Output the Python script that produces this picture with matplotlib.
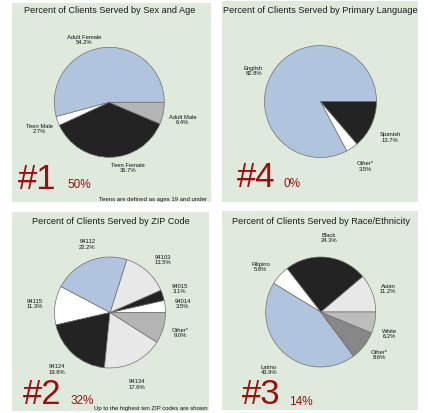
import matplotlib
matplotlib.use('Agg')
import matplotlib.pyplot as plt
from matplotlib.patches import Rectangle

plt.rcParams['font.family'] = ['Liberation Sans', 'DejaVu Sans']

W, H = 428, 414

# ---- data ----
sex_age_labels = ['Adult Female', 'Teen Male', 'Teen Female', 'Adult Male']
sex_age_values = [54.2, 2.7, 36.7, 6.4]

language_labels = ['English', 'Other*', 'Spanish']
language_values = [82.8, 3.5, 13.7]

zip_labels = ['94014', '94015', '94103', '94112', '94115', '94124', '94134', 'Other*']
zip_values = [3.5, 3.1, 13.5, 22.2, 11.3, 19.8, 17.6, 9.0]

race_labels = ['Asian', 'Black', 'Filipino', 'Latino', 'Other*', 'White']
race_values = [11.2, 24.3, 5.8, 43.9, 8.6, 6.2]

titles = ['Percent of Clients Served by Sex and Age',
          'Percent of Clients Served by Primary Language',
          'Percent of Clients Served by ZIP Code',
          'Percent of Clients Served by Race/Ethnicity']
ranks = ['#1', '#4', '#2', '#3']
rank_pcts = ['50%', '0%', '32%', '14%']
footnotes = ['Teens are defined as ages 19 and under', None,
             'Up to the highest ten ZIP codes are shown', None]

# ---- styles / layout (pixel coordinates, y measured from top) ----
BLUE, BLACK, WHITE = '#b0c4de', '#232323', '#ffffff'
LGRAY, MGRAY, DGRAY = '#e8e8e8', '#b4b4b4', '#878787'
BG = '#dfeadd'
RED = '#a00c0c'

colors = [
    [BLUE, WHITE, BLACK, MGRAY],
    [BLUE, WHITE, BLACK],
    [WHITE, BLACK, LGRAY, BLUE, WHITE, BLACK, LGRAY, MGRAY],
    [LGRAY, BLACK, WHITE, BLUE, DGRAY, '#bdbdbd'],
]
panels = [(12, 4, 211, 203), (222, 2, 418, 203), (12, 213, 209, 412), (222, 212, 418, 411)]
pies = [(109.3, 103.3, 55), (320.5, 102.5, 56), (110, 313.5, 55.5), (320.7, 313, 55)]
label_pos = [
    [(84.3, 40, 'center'), (53, 129, 'right'), (111, 168, 'left'), (169, 120, 'left')],
    [(244, 71, 'left'), (357, 166.5, 'left'), (379.7, 137.5, 'left')],
    [(182.7, 304.3, 'center'), (179.7, 289, 'center'), (162.7, 259.7, 'center'),
     (87.5, 244.5, 'center'), (35, 304, 'center'), (57.3, 369.5, 'center'),
     (137.3, 384.5, 'center'), (171.7, 332.7, 'left')],
    [(379.7, 288.7, 'left'), (329, 238, 'center'), (260.7, 267, 'center'),
     (269, 370, 'center'), (370.7, 355.3, 'left'), (381.7, 333.7, 'left')],
]
title_pos = [(110, 13.3), (320.7, 13.3), (110.5, 223.7), (320.7, 223.7)]
rank_pos = [((18, 189), (67, 188)), ((236.7, 186.7), (284, 186.7)),
            ((22.7, 403.7), (70.7, 404)), ((241.7, 403.7), (289, 404.7))]
foot_pos = [(207, 201), None, (207.3, 410.5), None]

all_labels = [sex_age_labels, language_labels, zip_labels, race_labels]
all_values = [sex_age_values, language_values, zip_values, race_values]

fig = plt.figure(figsize=(W / 100, H / 100), dpi=100)
fig.patch.set_facecolor('white')
ax = fig.add_axes([0, 0, 1, 1])

def Y(y):
    return H - y

for i in range(4):
    x0, y0, x1, y1 = panels[i]
    ax.add_patch(Rectangle((x0, Y(y1)), x1 - x0, y1 - y0, facecolor=BG,
                           edgecolor='none', zorder=0))
    cx, cy, r = pies[i]
    ax.pie(all_values[i], colors=colors[i], center=(cx, Y(cy)), radius=r,
           startangle=0, counterclock=True, frame=True,
           wedgeprops=dict(edgecolor='#6e6e6e', linewidth=0.5))
    for lab, val, (lx, ly, ha) in zip(all_labels[i], all_values[i], label_pos[i]):
        ax.text(lx, Y(ly), f'{lab}\n{val:.1f}%', ha=ha, va='center',
                multialignment='center', fontsize=4.2, linespacing=1.05,
                color='#111111')
    tx, ty = title_pos[i]
    ax.text(tx, Y(ty), titles[i], ha='center', va='baseline', fontsize=6.6,
            color='#1a1a1a')
    (rx, ry), (px, py) = rank_pos[i]
    ax.text(rx, Y(ry), ranks[i], ha='left', va='baseline', fontsize=25, color=RED)
    ax.text(px, Y(py), rank_pcts[i], ha='left', va='baseline', fontsize=8.5, color=RED)
    if footnotes[i]:
        fx, fy = foot_pos[i]
        ax.text(fx, Y(fy), footnotes[i], ha='right', va='baseline', fontsize=4.3,
                color='#111111')

ax.set_xlim(0, W)
ax.set_ylim(0, H)
ax.set_aspect('auto')
ax.axis('off')

fig.savefig('out.png', dpi=100, facecolor='white')
